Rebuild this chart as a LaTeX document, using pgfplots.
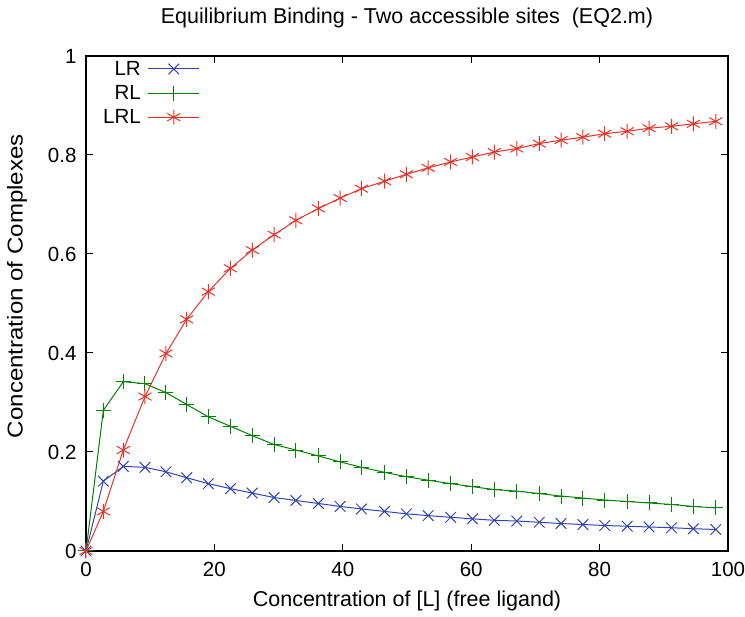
\documentclass[border=0pt]{standalone}
\usepackage{pgfplots}
\pgfplotsset{compat=1.18}
\usepackage{pgfplotstable}
\usepackage{fontspec}
\setmainfont{Liberation Sans}
\definecolor{cLR}{RGB}{50,70,175}
\definecolor{cRL}{RGB}{0,130,0}
\definecolor{cLRL}{RGB}{230,50,40}
\pgfplotstableread{
x LR RL LRL
0 0 0 0
2.70 0.141 0.284 0.080
5.81 0.171 0.342 0.204
9.19 0.169 0.338 0.312
12.46 0.160 0.320 0.399
15.68 0.148 0.296 0.468
19.05 0.136 0.271 0.524
22.5 0.126 0.252 0.571
25.9 0.117 0.233 0.608
29.3 0.108 0.215 0.639
32.7 0.102 0.204 0.668
36.2 0.096 0.192 0.692
39.6 0.090 0.180 0.713
42.9 0.085 0.169 0.732
46.5 0.080 0.159 0.747
49.9 0.075 0.150 0.761
53.3 0.0715 0.143 0.774
56.8 0.068 0.136 0.786
60.2 0.065 0.130 0.796
63.6 0.062 0.124 0.806
67.1 0.0605 0.121 0.813
70.6 0.058 0.116 0.823
74.0 0.0555 0.111 0.830
77.4 0.0535 0.107 0.836
80.8 0.0515 0.103 0.843
84.3 0.050 0.100 0.848
87.7 0.0485 0.097 0.854
91.2 0.047 0.094 0.858
94.6 0.045 0.090 0.863
98.1 0.0435 0.087 0.868
}\datatable
\begin{document}
\begin{tikzpicture}[font=\fontsize{20.5}{24}\selectfont]
\begin{axis}[
  scale only axis,
  width=642pt, height=495pt,
  xmin=0, xmax=100, ymin=0, ymax=1,
  xtick={0,20,40,60,80,100},
  ytick={0,0.2,0.4,0.6,0.8,1},
  yticklabels={0,0.2,0.4,0.6,0.8,1},
  tick align=inside,
  major tick length=7pt,
  axis line style={line width=1.2pt},
  every tick/.style={line width=1pt, black},
  /pgf/number format/assume math mode=true,
  xticklabel style={yshift=-8pt},
  yticklabel style={xshift=-6pt},
  title={Equilibrium Binding - Two accessible sites\ \ (EQ2.m)},
  title style={font=\fontsize{21.5}{25}\selectfont, at={(axis description cs:0.5,1)}, anchor=center, yshift=32pt},
  xlabel={Concentration of [L] (free ligand)},
  xlabel style={font=\fontsize{21.5}{25}\selectfont, at={(axis description cs:0.5,0)}, anchor=center, yshift=-50pt},
  ylabel={Concentration of Complexes},
  ylabel style={font=\fontsize{21.5}{25}\selectfont, at={(axis description cs:0,0.535)}, anchor=center, yshift=69pt, xscale=1.12},
  legend style={draw=none, fill=none, at={(axis cs:0,1)}, anchor=north west, xshift=12pt, yshift=-1pt, row sep=4.5pt, legend cell align=right},
  legend plot pos=right,
  legend image code/.code={\draw[#1] (0pt,0pt) -- (51pt,0pt); \draw[#1, only marks] plot coordinates {(25.5pt,0pt)};},
]
\addplot[cLR, line width=1pt, mark=x, mark size=7.5pt] table[x=x, y=LR] {\datatable};
\addlegendentry{LR\hspace{5pt}\mbox{}}
\addplot[cRL, line width=1pt, mark=+, mark size=7.5pt] table[x=x, y=RL] {\datatable};
\addlegendentry{RL\hspace{5pt}\mbox{}}
\addplot[cLRL, line width=1pt, mark=asterisk, mark size=7.5pt] table[x=x, y=LRL] {\datatable};
\addlegendentry{LRL\hspace{5pt}\mbox{}}
\end{axis}
\pgfresetboundingbox
\path[use as bounding box] ([xshift=-86pt,yshift=-66pt]current axis.south west) rectangle ([xshift=17pt,yshift=56pt]current axis.north east);
\end{tikzpicture}
\end{document}
